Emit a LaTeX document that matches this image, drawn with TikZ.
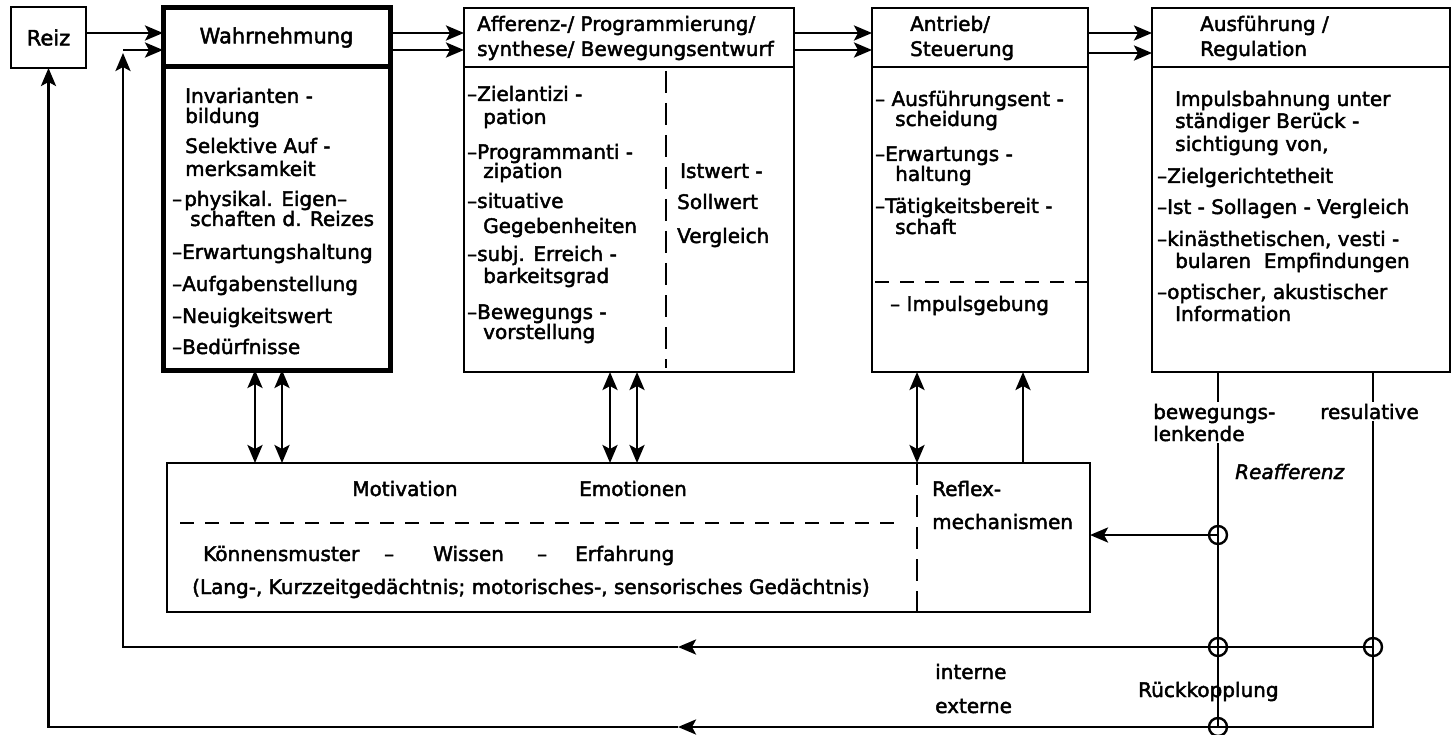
\documentclass[tikz,border=0pt]{standalone}
\usepackage{fontspec}
\setmainfont{DejaVu Sans}[RawFeature={embolden=2.2}]
\usetikzlibrary{arrows.meta}
\tikzset{
  ln/.style={line width=2.8pt},
  arr/.style={ln,-{Stealth[length=18pt,width=15pt,inset=4pt]}},
  darr/.style={ln,{Stealth[length=18pt,width=15pt,inset=4pt]}-{Stealth[length=18pt,width=15pt,inset=4pt]}},
  dsh/.style={line width=2pt,dash pattern=on 14pt off 11pt},
  vdsh/.style={line width=2pt,dash pattern=on 22pt off 10pt},
  box/.style={draw,line width=2.8pt,inner sep=0pt,outer sep=0pt,anchor=north west,
    font=\fontsize{20}{22}\selectfont},
  thickbox/.style={box,line width=5pt},
  txt/.style={inner sep=0pt,anchor=base west,font=\fontsize{20}{22}\selectfont},
  ctxt/.style={txt,anchor=base},
  wtxt/.style={txt,fill=white,inner sep=2pt},
  fb/.style={circle,draw,line width=2.4pt,minimum size=18pt,inner sep=0pt}
}
\begin{document}
\begin{tikzpicture}[x=1pt,y=-1pt]
\useasboundingbox (0,0) rectangle (1453,735);
% boxes
\node[box,minimum width=75pt,minimum height=61pt,font=\fontsize{21}{22}\selectfont] (reiz) at (11,7) {Reiz};
\node[thickbox,minimum width=227pt,minimum height=59pt,font=\fontsize{21}{22}\selectfont] (wahrH) at (163,8) {Wahrnehmung};
\node[thickbox,minimum width=227pt,minimum height=303pt] (wahrB) at (163,67) {};
\node[box,minimum width=330pt,minimum height=59pt] (affH) at (464,8) {};
\node[box,minimum width=330pt,minimum height=305pt] (affB) at (464,67) {};
\node[box,minimum width=216pt,minimum height=59pt] (antH) at (872,8) {};
\node[box,minimum width=216pt,minimum height=305pt] (antB) at (872,67) {};
\node[box,minimum width=298pt,minimum height=59pt] (ausH) at (1152,8) {};
\node[box,minimum width=298pt,minimum height=305pt] (ausB) at (1152,67) {};
\node[box,minimum width=923pt,minimum height=149pt] (motB) at (167,463) {};

% header texts
\node[txt] (affH1) at (477,31) {Afferenz-/ Programmierung/};
\node[txt] (affH2) at (477,56) {synthese/ Bewegungsentwurf};
\node[txt] (antH1) at (910,31) {Antrieb/};
\node[txt] (antH2) at (910,56) {Steuerung};
\node[txt] (ausH1) at (1200,31) {Ausführung /};
\node[txt] (ausH2) at (1200,56) {Regulation};

% Wahrnehmung body
\node[txt] (w1) at (185,103) {Invarianten -};
\node[txt] (w2) at (185,123) {bildung};
\node[txt] (w3) at (185,153) {Selektive Auf -};
\node[txt] (w4) at (185,176) {merksamkeit};
\node[txt] (w5) at (172,206) {–\kern2pt physikal. Eigen–};
\node[txt] (w6) at (190,226) {schaften d. Reizes};
\node[txt] (w7) at (172,259) {–Erwartungshaltung};
\node[txt] (w8) at (172,291) {–Aufgabenstellung};
\node[txt] (w9) at (172,323) {–Neuigkeitswert};
\node[txt] (w10) at (172,354) {–Bedürfnisse};

% Afferenz body
\node[txt] (a1) at (467,101) {–Zielantizi -};
\node[txt] (a2) at (483,124) {pation};
\node[txt] (a3) at (467,159) {–Programmanti -};
\node[txt] (a4) at (483,178) {zipation};
\node[txt] (a5) at (467,208) {–situative};
\node[txt] (a6) at (483,233) {Gegebenheiten};
\node[txt] (a7) at (467,261) {–subj. Erreich -};
\node[txt] (a8) at (483,283) {barkeitsgrad};
\node[txt] (a9) at (467,319) {–Bewegungs -};
\node[txt] (a10) at (483,339) {vorstellung};
\node[txt] (a11) at (680,178) {Istwert -};
\node[txt] (a12) at (677,209) {Sollwert};
\node[txt] (a13) at (677,243) {Vergleich};
\coordinate (xa) at (666,0);
\draw[vdsh] ([yshift=-4pt]affB.north -| xa) -- ([yshift=4pt]affB.south -| xa);

% Antrieb body
\node[txt] (s1) at (875,106) {– Ausführungsent -};
\node[txt] (s2) at (895,126) {scheidung};
\node[txt] (s3) at (875,161) {–Erwartungs -};
\node[txt] (s4) at (895,181) {haltung};
\node[txt] (s5) at (875,213) {–Tätigkeitsbereit -};
\node[txt] (s6) at (895,234) {schaft};
\node[txt] (s7) at (890,311) {– Impulsgebung};
\coordinate (ad) at (875,282);
\draw[dsh] (ad) -- (ad -| antB.east);

% Ausfuehrung body
\node[txt] (r1) at (1175,106) {Impulsbahnung unter};
\node[txt] (r2) at (1175,128) {ständiger Berück -};
\node[txt] (r3) at (1175,151) {sichtigung von,};
\node[txt] (r4) at (1157,183) {–Zielgerichtetheit};
\node[txt] (r5) at (1157,214) {–Ist - Sollagen - Vergleich};
\node[txt] (r6) at (1157,246) {–kinästhetischen, vesti -};
\node[txt] (r7) at (1175,268) {bularen \ Empfindungen};
\node[txt] (r8) at (1157,299) {–optischer, akustischer};
\node[txt] (r9) at (1175,321) {Information};

% Motivation box
\node[ctxt] (m1) at (405,496) {Motivation};
\node[ctxt] (m2) at (633,496) {Emotionen};
\node[txt] (m3) at (932,496) {Reflex-};
\node[txt] (m4) at (932,529) {mechanismen};
\node[txt] (k1) at (203,561) {Könnensmuster};
\node[txt] (k2) at (384,561) {–};
\node[txt] (k3) at (433,561) {Wissen};
\node[txt] (k4) at (537,561) {–};
\node[txt] (k5) at (575,561) {Erfahrung};
\node[txt] (k6) at (192,594) {(Lang-, Kurzzeitgedächtnis; motorisches-, sensorisches Gedächtnis)};
\coordinate (x5) at (917,0);
\draw[dsh] (180,523) -- (900,523);
\draw[vdsh] (motB.north -| x5) -- (motB.south -| x5);

% top flow arrows
\draw[arr] ([yshift=4.5pt]reiz.east) -- ([yshift=4.5pt]wahrH.west);
\draw[arr] ([yshift=4.5pt]wahrH.east) -- ([yshift=4.5pt]affH.west);
\draw[arr] ([yshift=-12.5pt]wahrH.east) -- ([yshift=-12.5pt]affH.west);
\draw[arr] ([yshift=4.5pt]affH.east) -- ([yshift=4.5pt]antH.west);
\draw[arr] ([yshift=-12.5pt]affH.east) -- ([yshift=-12.5pt]antH.west);
\draw[arr] ([yshift=4.5pt]antH.east) -- ([yshift=4.5pt]ausH.west);
\draw[arr] ([yshift=-15.5pt]antH.east) -- ([yshift=-15.5pt]ausH.west);

% vertical arrows to Motivation box
\coordinate (x1) at (255,0);
\coordinate (x2) at (282,0);
\coordinate (x3) at (610,0);
\coordinate (x4) at (637,0);
\coordinate (x6) at (1023,0);
\draw[darr] (wahrB.south -| x1) -- (motB.north -| x1);
\draw[darr] (wahrB.south -| x2) -- (motB.north -| x2);
\draw[darr] (affB.south -| x3) -- (motB.north -| x3);
\draw[darr] (affB.south -| x4) -- (motB.north -| x4);
\draw[darr] (antB.south -| x5) -- (motB.north -| x5);
\draw[arr] (motB.north -| x6) -- (antB.south -| x6);

% feedback
\coordinate (c1) at (1218,535);
\coordinate (c2) at (1218,647);
\coordinate (c3) at (1373,647);
\coordinate (c4) at (1218,727);
\coordinate (inm) at (678,647);
\coordinate (exm) at (678,727);
\coordinate (ic) at (123,50);
\draw[ln] (ausB.south -| c1) -- (c4);
\draw[ln] (ausB.south -| c3) |- (c4);
\draw[arr] (c4) -- (exm);
\draw[arr] (exm) -| (reiz.south);
\draw[arr] (c3) -- (inm);
\draw[arr] (inm) -| ([yshift=-3pt]ic);
\draw[arr] (ic) -- (ic -| wahrH.west);
\draw[arr] (c1) -- (c1 -| motB.east);
\node[fb] (f1) at (c1) {};
\node[fb] (f2) at (c2) {};
\node[fb] (f3) at (c3) {};
\node[fb] (f4) at (c4) {};

% feedback labels
\node[wtxt] (l1) at (1151,419) {bewegungs-};
\node[wtxt] (l2) at (1151,441) {lenkende};
\node[wtxt] (l3) at (1318,419) {resulative};
\node[txt,font=\fontsize{20}{22}\selectfont\itshape] (l4) at (1235,479) {Reafferenz};
\node[txt] (l5) at (1138,697) {Rückkopplung};
\node[txt] (l6) at (935,679) {interne};
\node[txt] (l7) at (935,713) {externe};
\end{tikzpicture}
\end{document}
